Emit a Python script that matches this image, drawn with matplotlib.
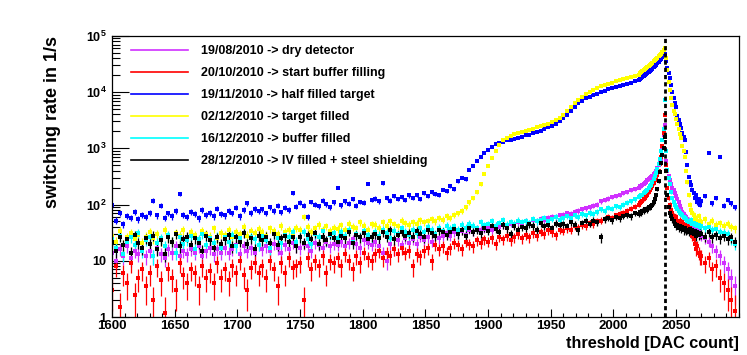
import numpy as np
import matplotlib.pyplot as plt
from matplotlib.lines import Line2D
from matplotlib.ticker import MultipleLocator, FixedLocator, FixedFormatter, LogLocator, NullFormatter

plt.rcParams['font.family'] = ['Liberation Sans', 'DejaVu Sans']
plt.rcParams['font.weight'] = 'bold'
plt.rcParams['mathtext.fontset'] = 'custom'
plt.rcParams['mathtext.rm'] = 'Liberation Sans:bold'
plt.rcParams['mathtext.it'] = 'Liberation Sans:bold'
plt.rcParams['mathtext.bf'] = 'Liberation Sans:bold'

# threshold grid [DAC count]: coarse far from the peak, fine around it
threshold = list(range(1600, 2020, 3)) + list(range(2020, 2070)) + list(range(2070, 2100, 3))

# switching rate in 1/s
rate_dry = [
    14, 10, 16, 12, 18, 11, 15, 13, 17, 12,
    15, 12, 17, 13, 11, 16, 14, 18, 12, 15,
    13, 16, 14, 18, 12, 15, 17, 13, 16, 14,
    17, 14, 16, 19, 13, 18, 15, 17, 14, 19,
    16, 18, 15, 20, 17, 14, 19, 16, 21, 18,
    17, 20, 18, 15, 21, 19, 17, 22, 18, 20,
    19, 22, 18, 21, 24, 20, 17, 23, 21, 19,
    22, 18, 14, 10, 20, 16, 23, 19, 25, 21,
    24, 20, 27, 23, 26, 22, 29, 25, 28, 31,
    28, 32, 30, 34, 29, 36, 33, 38, 35, 37,
    39, 36, 42, 40, 44, 41, 46, 43, 48, 45,
    50, 47, 53, 51, 56, 54, 58, 61, 59, 64,
    66, 70, 68, 74, 78, 82, 86, 90, 95, 100,
    115, 120, 128, 135, 142, 150, 158, 168, 178, 190,
    200, 210, 215, 225, 235, 245, 255, 270, 280, 295,
    305, 325, 345, 370, 400, 450, 500, 580, 650, 1000,
    1700, 2600, 600, 400, 320, 275, 230, 200, 180, 160,
    140, 125, 110, 95, 82, 75, 68, 63, 60, 56,
    52, 49, 47, 44, 41, 38, 36, 34, 32, 30,
    28, 25, 22, 18, 15, 12, 9, 7, 5, 3.5,
]
rate_buffer_start = [
    3, 8, 1.5, 6, 4, 9, 2.5, 5, 7, 3.5,
    6, 2, 8, 4.5, 1.2, 7, 5, 3, 9, 5.5,
    4, 7, 6, 3.5, 8, 5, 6.5, 4, 9, 5,
    7, 4.5, 8, 6, 10, 5.5, 3, 7.5, 9, 6,
    8, 5, 10, 7, 3.5, 9, 6, 11, 7.5, 8,
    9, 2, 11, 7, 10, 8, 12, 6, 10, 9,
    11, 8, 13, 10, 7, 12, 9, 14, 11, 10,
    13, 15, 11, 14, 12, 16, 13, 17, 14, 15,
    8, 13, 12, 15, 17, 10, 19, 16, 18, 14,
    17, 21, 19, 16, 22, 20, 18, 23, 21, 24,
    22, 25, 20, 27, 24, 28, 23, 26, 30, 25,
    29, 26, 31, 28, 33, 30, 35, 32, 29, 36,
    34, 38, 36, 41, 39, 44, 42, 47, 45, 50,
    52, 56, 60, 58, 64, 68, 72, 78, 85, 92,
    100, 105, 112, 118, 125, 130, 140, 150, 165, 180,
    195, 215, 240, 270, 300, 340, 400, 520, 700, 1100,
    1900, 3900, 500, 200, 130, 100, 80, 70, 62, 55,
    60, 50, 47, 52, 44, 48, 40, 45, 38, 42,
    36, 40, 33, 28, 24, 20, 16, 18, 14, 12,
    12, 9, 11, 7, 8, 5, 4, 3, 2, 1.3,
]
rate_half_target = [
    98, 52, 70, 45, 63, 58, 74, 55, 66, 60,
    72, 118, 64, 96, 58, 70, 62, 78, 155, 66,
    60, 74, 68, 57, 80, 65, 71, 62, 85, 68,
    64, 77, 70, 88, 62, 80, 105, 72, 84, 76,
    82, 70, 90, 78, 95, 73, 88, 80, 160, 92,
    108, 96, 60, 112, 100, 94, 118, 102, 90, 110,
    200, 98, 115, 104, 125, 96, 112, 108, 235, 120,
    128, 114, 240, 132, 118, 140, 125, 135, 122, 145,
    130, 150, 125, 160, 142, 170, 155, 148, 185, 175,
    210, 190, 260, 300, 280, 420, 480, 600, 700, 820,
    950, 1050, 1200, 1250, 1320, 1380, 1430, 1480, 1530, 1580,
    1700, 1750, 1850, 1950, 2050, 2200, 2350, 2500, 2700, 3000,
    3400, 3900, 4600, 5500, 6300, 7000, 7700, 8300, 8900, 9400,
    10000, 10600, 11200, 11800, 12400, 13000, 13600, 14200, 14800, 15500,
    16500, 17200, 17900, 18700, 19500, 20300, 21200, 22100, 23000, 24000,
    25000, 26200, 27500, 29000, 30500, 32500, 34500, 37000, 39500, 42000,
    44000, 48000, 36000, 27000, 22000, 18000, 13500, 10000, 8000, 6500,
    5500, 3800, 3200, 2700, 2300, 1900, 1600, 1400, 850, 500,
    310, 250, 220, 180, 160, 130, 145, 110, 125, 100,
    115, 140, 820, 105, 130, 700, 95, 120, 105, 90,
]
rate_target = [
    28, 22, 34, 19, 26, 31, 24, 29, 21, 27,
    33, 25, 30, 23, 36, 27, 22, 31, 28, 35,
    26, 32, 29, 24, 34, 30, 27, 38, 25, 31,
    29, 35, 27, 33, 30, 40, 28, 34, 31, 37,
    32, 28, 38, 34, 30, 42, 33, 36, 29, 39,
    35, 60, 40, 32, 38, 44, 36, 41, 34, 39,
    37, 43, 35, 46, 40, 38, 48, 42, 36, 45,
    44, 39, 48, 42, 50, 45, 41, 52, 47, 44,
    49, 46, 53, 48, 51, 55, 50, 58, 54, 62,
    58, 65, 70, 78, 90, 110, 130, 170, 230, 350,
    480, 680, 900, 1150, 1400, 1550, 1680, 1780, 1870, 1950,
    2050, 2150, 2250, 2350, 2450, 2600, 2750, 2950, 3150, 3500,
    3900, 4600, 5400, 6300, 7300, 8300, 9300, 10200, 11000, 11800,
    12600, 13300, 14000, 14700, 15500, 16200, 17000, 17800, 18600, 19500,
    20500, 21500, 22500, 23500, 24500, 25500, 26700, 28000, 29300, 30700,
    32000, 33500, 35000, 36800, 38700, 40800, 43000, 45500, 48500, 52000,
    56000, 62000, 40000, 25000, 15000, 11000, 8000, 6000, 4700, 4000,
    3300, 2700, 2200, 1800, 1500, 1100, 900, 700, 400, 250,
    150, 100, 80, 70, 65, 55, 58, 50, 62, 52,
    48, 55, 45, 52, 44, 47, 42, 46, 40, 38,
]
rate_buffer_filled = [
    24, 17, 28, 13, 22, 26, 19, 31, 15, 23,
    27, 12, 21, 25, 18, 29, 22, 14, 26, 20,
    23, 28, 16, 24, 30, 19, 25, 21, 27, 17,
    26, 22, 29, 18, 25, 31, 20, 27, 24, 19,
    28, 23, 17, 30, 25, 21, 29, 26, 32, 22,
    27, 33, 24, 20, 30, 26, 34, 23, 29, 31,
    25, 32, 28, 35, 22, 30, 27, 34, 29, 26,
    33, 28, 36, 31, 25, 34, 30, 38, 32, 29,
    35, 31, 38, 33, 40, 36, 30, 39, 34, 42,
    37, 41, 35, 44, 39, 46, 42, 38, 48, 43,
    45, 50, 42, 47, 53, 44, 49, 46, 52, 48,
    51, 47, 55, 50, 53, 58, 52, 56, 60, 54,
    58, 63, 57, 66, 61, 69, 64, 72, 68, 75,
    82, 78, 88, 85, 94, 90, 100, 108, 115, 124,
    135, 140, 150, 148, 160, 170, 175, 185, 200, 210,
    225, 250, 280, 320, 370, 430, 520, 650, 900, 1400,
    2200, 7200, 900, 420, 300, 230, 170, 130, 110, 100,
    92, 85, 78, 72, 68, 64, 60, 57, 55, 52,
    50, 48, 53, 45, 47, 43, 46, 41, 44, 40,
    42, 38, 40, 35, 37, 33, 31, 30, 24, 20,
]
rate_iv_steel = [
    22, 15, 27, 19, 24, 14, 29, 21, 17, 25,
    20, 28, 16, 23, 13, 26, 22, 30, 18, 24,
    27, 19, 25, 21, 15, 28, 23, 17, 26, 20,
    24, 29, 18, 26, 22, 31, 20, 25, 16, 28,
    23, 27, 21, 30, 19, 25, 28, 22, 26, 18,
    26, 21, 29, 24, 31, 20, 27, 23, 30, 25,
    22, 28, 25, 33, 21, 29, 26, 31, 24, 27,
    30, 25, 32, 27, 35, 24, 29, 33, 28, 31,
    27, 34, 30, 26, 36, 31, 28, 35, 33, 29,
    32, 37, 30, 35, 28, 38, 33, 36, 31, 39,
    34, 41, 37, 33, 44, 38, 30, 42, 36, 40,
    39, 45, 42, 36, 47, 41, 44, 38, 46, 43,
    45, 41, 48, 44, 35, 47, 50, 46, 52, 49,
    26, 55, 58, 53, 60, 57, 63, 66, 62, 70,
    68, 74, 72, 78, 76, 82, 85, 80, 90, 88,
    95, 100, 110, 125, 150, 190, 260, 380, 550, 750,
    1000, 1600, 400, 150, 90, 70, 62, 55, 50, 46,
    42, 44, 39, 41, 37, 40, 35, 38, 34, 36,
    33, 37, 31, 35, 30, 34, 28, 33, 29, 31,
    30, 27, 32, 26, 29, 25, 28, 24, 26, 22,
]

labels = [
    '19/08/2010 -> dry detector',
    '20/10/2010 -> start buffer filling',
    '19/11/2010 -> half filled target',
    '02/12/2010 -> target filled',
    '16/12/2010 -> buffer filled',
    '28/12/2010 -> IV filled + steel shielding',
]
colors = ['#d030ff', '#ff0000', '#0000ff', '#ffff00', '#00ffff', '#000000']
series = [rate_dry, rate_buffer_start, rate_half_target, rate_target,
          rate_buffer_filled, rate_iv_steel]
trigger_dac = 2041.5

fig = plt.figure(figsize=(7.47, 3.55), dpi=100)
ax = fig.add_axes([0.150, 0.107, 0.839, 0.792])

x = np.array(threshold)
for vals, c in zip(series, colors):
    y = np.array(vals, dtype=float)
    err = np.sqrt(y)  # poisson error on ~1 s of counting
    ax.errorbar(x, y, yerr=err, fmt='s', ms=2.9, mew=0, color=c, ecolor=c,
                elinewidth=0.9, capsize=1.3, capthick=0.9, zorder=2)

ax.axvline(trigger_dac, color='k', lw=2, ls=(0, (1.5, 1.1)), zorder=3)

ax.set_yscale('log')
ax.set_xlim(1600, 2100)
ax.set_ylim(1, 1e5)

ax.xaxis.set_major_locator(MultipleLocator(50))
ax.xaxis.set_minor_locator(MultipleLocator(10))
xt = list(range(1600, 2100, 50))
ax.set_xticks(xt)
ax.set_xticklabels([str(v) for v in xt])

ax.yaxis.set_major_locator(FixedLocator([1, 10, 100, 1e3, 1e4, 1e5]))
ax.yaxis.set_major_formatter(FixedFormatter(
    ['1', '10', r'$10^{2}$', r'$10^{3}$', r'$10^{4}$', r'$10^{5}$']))
ax.yaxis.set_minor_locator(LogLocator(base=10, subs=np.arange(2, 10), numticks=20))
ax.yaxis.set_minor_formatter(NullFormatter())

ax.tick_params(axis='x', which='major', direction='in', length=5.8, width=0.8,
               labelsize=9.5, pad=2, top=False)
ax.tick_params(axis='x', which='minor', direction='in', length=3, width=0.8, top=False)
ax.tick_params(axis='y', which='major', direction='in', length=12, width=0.8,
               labelsize=9, pad=4, right=False)
ax.tick_params(axis='y', which='minor', direction='in', length=5.5, width=0.8, right=False)
for s in ax.spines.values():
    s.set_linewidth(0.9)

ax.set_xlabel('threshold [DAC count]', fontsize=11.7, fontweight='bold', loc='right', labelpad=3)
ax.set_ylabel('switching rate in 1/s', fontsize=13, fontweight='bold', loc='top', labelpad=18)

handles = [Line2D([0], [0], color=c, lw=1.2) for c in colors]
ax.legend(handles, labels, loc='upper left', bbox_to_anchor=(0.03, 0.967),
          frameon=False, handlelength=4.6, handletextpad=1.0,
          labelspacing=0.8, borderaxespad=0, borderpad=0,
          prop={'weight': 'bold', 'size': 9})

fig.savefig('out.png', dpi=100)
